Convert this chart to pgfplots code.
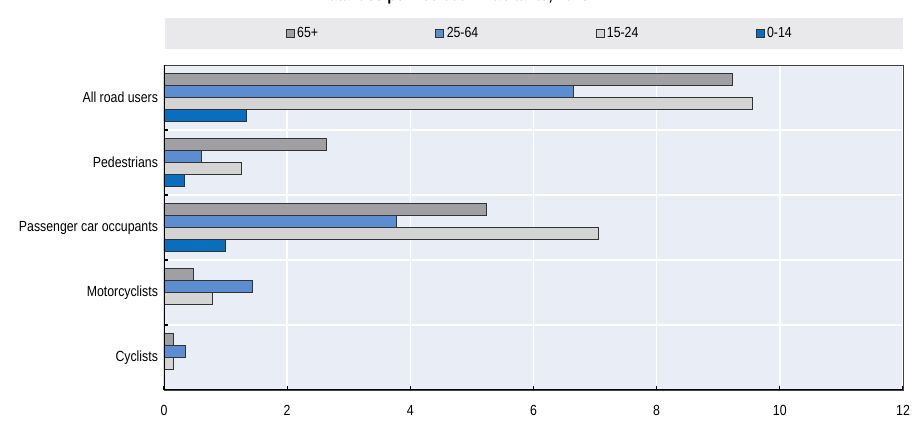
\documentclass[border=0pt]{standalone}
\usepackage{fontspec}
\setmainfont{Liberation Sans}[FakeStretch=0.84]
\usepackage{pgfplots}
\pgfplotsset{compat=1.18}
\definecolor{cOld}{HTML}{A0A0A4}
\definecolor{cAdult}{HTML}{5B8DD0}
\definecolor{cYoung}{HTML}{D4D4D4}
\definecolor{cChild}{HTML}{0A6EBE}
\definecolor{plotbg}{HTML}{E8EDF6}
\definecolor{legbg}{HTML}{E9E9EB}
\begin{document}
\begin{tikzpicture}[font=\fontsize{11}{13}\selectfont]
\fill[legbg] (123.75pt,280.5pt) rectangle (677.25pt,303.75pt);
\node[overlay, anchor=base, font=\fontsize{13}{15}\selectfont\bfseries] at (341pt,316.6pt) {Fatalities per 100 000 inhabitants, 2016};
\begin{axis}[
  at={(123pt,24.75pt)}, anchor=south west,
  scale only axis, width=554.25pt, height=243.75pt,
  xbar, bar width=9pt,
  xmin=0, xmax=12, ymin=-0.5, ymax=4.5,
  xtick={0,2,...,12},
  ytick={0,1,2,3,4},
  yticklabels={Cyclists, Motorcyclists, Passenger car occupants, Pedestrians, All road users},
  minor ytick={0.5,1.5,2.5,3.5},
  xtick pos=bottom, ytick pos=left,
  tick align=inside,
  major tick length=3pt, minor tick length=3pt,
  major y tick style={draw=none},
  minor y tick style={black, line width=0.8pt},
  major x tick style={black, line width=0.8pt},
  xmajorgrids=true, yminorgrids=true,
  major grid style={white, line width=1.2pt},
  minor grid style={white, line width=1.2pt},
  axis background/.style={fill=plotbg},
  axis line style={draw=black!75, line width=0.7pt},
  /pgf/number format/assume math mode=true,
  xticklabel style={yshift=-8pt},
  yticklabel style={xshift=-1pt},
  legend columns=4,
  legend style={at={(0.509,1.097)}, anchor=center, draw=none, fill=none,
    font=\fontsize{11}{13}\selectfont,
    /tikz/every even column/.append style={column sep=86pt},
    /tikz/every odd column/.append style={column sep=0pt}},
  legend cell align=left,
  legend image code/.code={\draw[#1, draw=black!80, line width=0.5pt] (0pt,-3pt) rectangle (6pt,3pt);},
  every axis plot/.append style={draw=black!80, line width=0.6pt},
]
\addplot[fill=cOld, bar shift=13.5pt] coordinates {(9.23,4) (2.63,3) (5.23,2) (0.47,1) (0.16,0)};
\addplot[fill=cAdult, bar shift=4.5pt] coordinates {(6.64,4) (0.61,3) (3.78,2) (1.44,1) (0.35,0)};
\addplot[fill=cYoung, bar shift=-4.5pt] coordinates {(9.55,4) (1.26,3) (7.05,2) (0.79,1) (0.16,0)};
\addplot[fill=cChild, bar shift=-13.5pt] coordinates {(1.33,4) (0.33,3) (1.00,2)};
\legend{65+, 25-64, 15-24, 0-14}
\draw[black, line width=1.5pt] (axis description cs:0,1) -- (axis description cs:0,0) -- (axis description cs:1,0);
\end{axis}
\pgfresetboundingbox
\useasboundingbox (0,0) rectangle (691.5pt,317.25pt);
\end{tikzpicture}
\end{document}
